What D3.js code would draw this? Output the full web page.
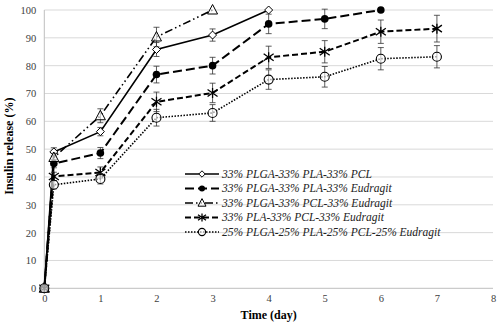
<!DOCTYPE html>
<html lang="en">
<head>
<meta charset="UTF-8">
<title>Insulin release</title>
<script src="https://d3js.org/d3.v7.min.js"></script>
<style>
  body { margin: 0; background: #fff; }
</style>
</head>
<body>
<div id="chart"></div>
<script>
// data
const seriesNames = [
  "33% PLGA-33% PLA-33% PCL",
  "33% PLGA-33% PLA-33% Eudragit",
  "33% PLGA-33% PCL-33% Eudragit",
  "33% PLA-33% PCL-33% Eudragit",
  "25% PLGA-25% PLA-25% PCL-25% Eudragit"
];
const days1 = [0, 0.17, 1, 2, 3, 4];
const vals1 = [0, 49, 56.3, 85.8, 91, 100];
const err1  = [0, 1.5, 1.5, 2.5, 2.2, 0];

const days2 = [0, 0.17, 1, 2, 3, 4, 5, 6];
const vals2 = [0, 44.8, 48.6, 76.8, 80, 95, 96.8, 100];
const err2  = [0, 1.5, 2, 3, 3, 3.5, 3.5, 0];

const days3 = [0, 0.17, 1, 2, 3];
const vals3 = [0, 47, 62, 90.3, 100];
const err3  = [0, 1.5, 2.5, 3.5, 0];

const days4 = [0, 0.17, 1, 2, 3, 4, 5, 6, 7];
const vals4 = [0, 40.2, 41.6, 67, 70.2, 83, 85, 92.2, 93.3];
const err4  = [0, 1.5, 2, 3.5, 3.5, 4, 4, 4.2, 4.8];

const days5 = [0, 0.17, 1, 2, 3, 4, 5, 6, 7];
const vals5 = [0, 37.2, 39.3, 61.3, 63, 75, 76, 82.5, 83.2];
const err5  = [0, 1.5, 1.8, 3, 3, 3.5, 3.7, 4, 4];

const xTicks = [0, 1, 2, 3, 4, 5, 6, 7, 8];
const yTicks = [0, 10, 20, 30, 40, 50, 60, 70, 80, 90, 100];

const W = 500, H = 329;
const margin = { top: 10, right: 7, bottom: 41, left: 44 };
const FONT = "'Liberation Serif', 'DejaVu Serif', serif";

const svg = d3.select("#chart").append("svg")
  .attr("width", W).attr("height", H)
  .attr("font-family", FONT);

const x = d3.scaleLinear().domain([0, 8]).range([margin.left + 0.3, W - margin.right]);
const y = d3.scaleLinear().domain([0, 100]).range([H - margin.bottom + 0.3, margin.top]);

// gridlines
svg.append("g")
  .selectAll("line")
  .data(yTicks.filter(d => d > 0))
  .join("line")
  .attr("x1", x(0)).attr("x2", x(8))
  .attr("y1", d => y(d)).attr("y2", d => y(d))
  .attr("stroke", "#d9d9d9").attr("stroke-width", 1);

// axes lines
svg.append("line")
  .attr("x1", x(0)).attr("x2", x(8))
  .attr("y1", y(0)).attr("y2", y(0))
  .attr("stroke", "#bfbfbf");
svg.append("line")
  .attr("x1", x(0)).attr("x2", x(0))
  .attr("y1", y(0)).attr("y2", y(100))
  .attr("stroke", "#bfbfbf");

// tick labels
const yAxis = svg.append("g")
  .attr("transform", `translate(${x(0)},0)`)
  .call(d3.axisLeft(y).tickValues(yTicks).tickSize(0).tickPadding(8));
yAxis.attr("font-family", FONT);
yAxis.select(".domain").remove();
yAxis.selectAll("text").attr("font-size", 10.5).attr("fill", "#404040");

const xAxis = svg.append("g")
  .attr("transform", `translate(0,${y(0)})`)
  .call(d3.axisBottom(x).tickValues(xTicks).tickSize(0).tickPadding(6));
xAxis.attr("font-family", FONT);
xAxis.select(".domain").remove();
xAxis.selectAll("text").attr("font-size", 10.5).attr("fill", "#404040");

// axis titles
svg.append("text")
  .attr("x", x(4)).attr("y", 319)
  .attr("text-anchor", "middle")
  .attr("font-size", 12).attr("font-weight", "bold")
  .text("Time (day)");
svg.append("text")
  .attr("transform", `translate(13,${(y(0) + y(100)) / 2 - 3}) rotate(-90)`)
  .attr("text-anchor", "middle")
  .attr("font-size", 12).attr("font-weight", "bold")
  .text("Insulin release (%)");

// series
const styles = [
  { dash: null, width: 1.6, marker: "diamond" },
  { dash: "9,4", width: 2, marker: "dot" },
  { dash: "8,3,1.5,3,1.5,3", width: 1.6, marker: "triangle" },
  { dash: "6,3", width: 2, marker: "star" },
  { dash: "1.5,1.5", width: 1.6, marker: "circle" }
];
const series = [
  { days: days1, vals: vals1, err: err1 },
  { days: days2, vals: vals2, err: err2 },
  { days: days3, vals: vals3, err: err3 },
  { days: days4, vals: vals4, err: err4 },
  { days: days5, vals: vals5, err: err5 }
];

function drawMarker(g, type, cx, cy, k) {
  k = k || 1;
  if (type === "diamond") {
    const r = 4 * k;
    g.append("path").attr("d", `M${cx},${cy - r}L${cx + r},${cy}L${cx},${cy + r}L${cx - r},${cy}Z`)
      .attr("fill", "#fff").attr("stroke", "#000").attr("stroke-width", 1);
  } else if (type === "dot") {
    g.append("circle").attr("cx", cx).attr("cy", cy).attr("r", 3.8 * k).attr("fill", "#000");
  } else if (type === "triangle") {
    g.append("path").attr("d", `M${cx},${cy - 5.5 * k}L${cx + 5 * k},${cy + 4 * k}L${cx - 5 * k},${cy + 4 * k}Z`)
      .attr("fill", "#fff").attr("fill-opacity", 0.6).attr("stroke", "#000").attr("stroke-width", 1);
  } else if (type === "star") {
    const r = 5 * k;
    g.append("path")
      .attr("d", `M${cx - r},${cy - r * 0.7}L${cx + r},${cy + r * 0.7}M${cx - r},${cy + r * 0.7}L${cx + r},${cy - r * 0.7}M${cx},${cy - r}L${cx},${cy + r}`)
      .attr("stroke", "#000").attr("stroke-width", 1.3);
  } else if (type === "circle") {
    g.append("circle").attr("cx", cx).attr("cy", cy).attr("r", 4.5 * k)
      .attr("fill", "#fff").attr("fill-opacity", 0.6).attr("stroke", "#000").attr("stroke-width", 1.1);
  }
}

const line = d3.line().x(d => x(d[0])).y(d => y(d[1]));

series.forEach((s, i) => {
  const st = styles[i];
  const g = svg.append("g");
  const pts = s.days.map((d, j) => [d, s.vals[j], s.err[j]]);
  // error bars
  pts.filter(p => p[2] > 0).forEach(p => {
    g.append("path")
      .attr("d", `M${x(p[0])},${y(p[1] + p[2])}V${y(p[1] - p[2])}M${x(p[0]) - 3},${y(p[1] + p[2])}h6M${x(p[0]) - 3},${y(p[1] - p[2])}h6`)
      .attr("stroke", "#333").attr("stroke-width", 0.8).attr("fill", "none");
  });
  g.append("path")
    .datum(pts)
    .attr("d", line)
    .attr("fill", "none")
    .attr("stroke", "#000")
    .attr("stroke-width", st.width)
    .attr("stroke-dasharray", st.dash);
  pts.forEach(p => drawMarker(g, st.marker, x(p[0]), y(p[1])));
});

// legend
const legY0 = 174, legStep = 14.5;
seriesNames.forEach((name, i) => {
  const st = styles[i];
  const ly = legY0 + i * legStep;
  const g = svg.append("g");
  g.append("line")
    .attr("x1", 185).attr("x2", 219)
    .attr("y1", ly).attr("y2", ly)
    .attr("stroke", "#000").attr("stroke-width", st.width)
    .attr("stroke-dasharray", st.dash);
  drawMarker(g, st.marker, 202, ly, 0.8);
  g.append("text")
    .attr("x", 222).attr("y", ly + 3.5)
    .attr("font-size", 11.5).attr("font-style", "italic")
    .attr("fill", "#222")
    .text(name);
});
</script>
</body>
</html>
